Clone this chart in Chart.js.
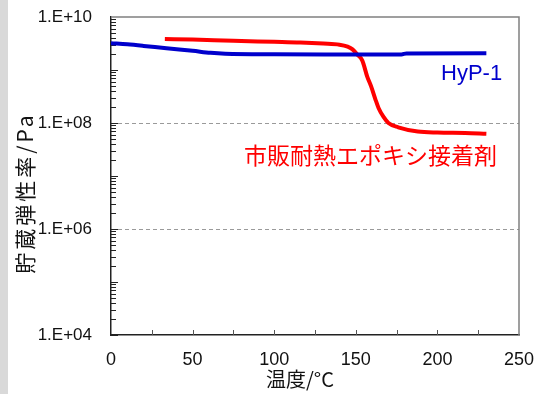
<!DOCTYPE html>
<html>
<head>
<meta charset="utf-8">
<script src="https://cdn.jsdelivr.net/npm/chart.js@4"></script>
<style>
  html, body { margin: 0; padding: 0; background: #fff; }
  #wrap { width: 538px; height: 394px; position: relative; }
</style>
</head>
<body>
<div id="wrap"><canvas id="chart"></canvas></div>
<script>
// storage modulus vs temperature
const tempHyp = [0, 10, 20, 34, 50, 61, 70, 100, 140, 178, 181, 230];
const modHyp = [3.2e9, 3.05e9, 2.85e9, 2.56e9, 2.3e9, 2.11e9, 2.03e9, 1.98e9, 1.97e9, 1.97e9, 2.05e9, 2.06e9];

const tempEpoxy = [33, 50, 75, 100, 116, 130, 140, 145, 148, 151, 154, 157, 159.5, 162, 164, 167, 170, 176, 188, 200, 217, 230];
const modEpoxy = [3.85e9, 3.75e9, 3.55e9, 3.4e9, 3.3e9, 3.15e9, 3.0e9, 2.75e9, 2.45e9, 1.95e9, 1.5e9, 7.5e8, 4.8e8, 2.8e8, 1.9e8, 1.3e8, 1.0e8, 8.3e7, 6.9e7, 6.6e7, 6.5e7, 6.3e7];

const xTicks = [0, 50, 100, 150, 200, 250];
const yTicks = [1e4, 1e6, 1e8, 1e10];
const gridValues = [1e6, 1e8];

const labelHyp = 'HyP-1';
const labelEpoxy = '市販耐熱エポキシ接着剤';
const xTitle = '温度/°C';
const yTitle = '貯蔵弾性率/Pa';

const toPoints = (xs, ys) => xs.map((x, i) => ({ x: x, y: ys[i] }));

// keep the plot area where the layout padding puts it
function noOverflow(s) {
  s.paddingTop = 0;
  s.paddingBottom = 0;
  s.paddingLeft = 0;
  s.paddingRight = 0;
}

const decorPlugin = {
  id: 'decor',
  beforeDraw(chart) {
    const ctx = chart.ctx;
    ctx.save();
    ctx.fillStyle = '#ffffff';
    ctx.fillRect(0, 0, chart.width, chart.height);
    ctx.fillStyle = '#d9d9d9';
    ctx.fillRect(0, 0, 8, chart.height);
    ctx.restore();
  },
  beforeDatasetsDraw(chart) {
    const ctx = chart.ctx;
    const a = chart.chartArea;
    const xs = chart.scales.x, ys = chart.scales.y;
    ctx.save();
    // dashed grid
    ctx.strokeStyle = '#9a9a9a';
    ctx.lineWidth = 1;
    ctx.setLineDash([4, 3]);
    gridValues.forEach(v => {
      const y = Math.round(ys.getPixelForValue(v)) + 0.5;
      ctx.beginPath();
      ctx.moveTo(a.left, y);
      ctx.lineTo(a.right, y);
      ctx.stroke();
    });
    ctx.setLineDash([]);
    // y minor ticks inside
    ctx.strokeStyle = '#222';
    for (let e = 4; e < 10; e++) {
      for (let k = 1; k <= 9; k++) {
        const y = Math.round(ys.getPixelForValue(k * Math.pow(10, e))) + 0.5;
        const len = k === 1 ? 7 : 5;
        ctx.beginPath();
        ctx.moveTo(a.left, y);
        ctx.lineTo(a.left + len, y);
        ctx.stroke();
      }
    }
    // x ticks inside
    ctx.strokeStyle = '#555';
    for (let t = 25; t < 250; t += 25) {
      const x = Math.round(xs.getPixelForValue(t)) + 0.5;
      ctx.beginPath();
      ctx.moveTo(x, a.bottom);
      ctx.lineTo(x, a.bottom - 5);
      ctx.stroke();
    }
    ctx.restore();
  },
  afterDraw(chart) {
    const ctx = chart.ctx;
    const a = chart.chartArea;
    ctx.save();
    // top and right border
    ctx.strokeStyle = '#808080';
    ctx.lineWidth = 1.5;
    ctx.beginPath();
    ctx.moveTo(a.left, a.top);
    ctx.lineTo(a.right, a.top);
    ctx.lineTo(a.right, a.bottom);
    ctx.stroke();
    // series labels
    ctx.textBaseline = 'alphabetic';
    ctx.fillStyle = '#0000cc';
    ctx.font = '22px "Liberation Sans", Arial, sans-serif';
    ctx.fillText(labelHyp, 441, 80);
    ctx.fillStyle = '#ff0000';
    ctx.font = '23px "Noto Sans CJK JP", sans-serif';
    ctx.fillText(labelEpoxy, 244, 164);
    // axis titles
    ctx.fillStyle = '#111';
    ctx.font = '20px "Noto Sans CJK JP", sans-serif';
    ctx.textAlign = 'center';
    ctx.fillText(xTitle, 300, 387);
    ctx.save();
    ctx.translate(33, 193);
    ctx.rotate(-Math.PI / 2);
    ctx.font = '21px "Noto Sans CJK JP", sans-serif';
    ctx.letterSpacing = '3px';
    ctx.fillText(yTitle, 0, 0);
    ctx.restore();
    ctx.restore();
  }
};

new Chart(document.getElementById('chart'), {
  type: 'line',
  data: {
    datasets: [
      {
        label: labelHyp,
        data: toPoints(tempHyp, modHyp),
        borderColor: '#0000cc',
        borderWidth: 4,
        pointRadius: 0,
        cubicInterpolationMode: 'monotone',
        fill: false
      },
      {
        label: labelEpoxy,
        data: toPoints(tempEpoxy, modEpoxy),
        borderColor: '#ff0000',
        borderWidth: 4,
        pointRadius: 0,
        cubicInterpolationMode: 'monotone',
        fill: false
      }
    ]
  },
  options: {
    responsive: true,
    maintainAspectRatio: false,
    animation: false,
    layout: { padding: { top: 17, right: 19, left: 0, bottom: 0 } },
    plugins: {
      legend: { display: false },
      tooltip: { enabled: false }
    },
    scales: {
      x: {
        type: 'linear',
        min: 0,
        max: 250,
        afterBuildTicks: s => { s.ticks = xTicks.map(v => ({ value: v })); },
        afterFit: s => { s.height = 59; noOverflow(s); },
        grid: { display: false, drawTicks: false },
        border: { display: true, color: '#222', width: 1.5 },
        ticks: {
          padding: 14,
          color: '#111',
          font: { family: '"Liberation Sans", Arial, sans-serif', size: 18 }
        }
      },
      y: {
        type: 'logarithmic',
        min: 1e4,
        max: 1e10,
        afterBuildTicks: s => { s.ticks = yTicks.map(v => ({ value: v })); },
        afterFit: s => { s.width = 111; noOverflow(s); },
        grid: { display: false, drawTicks: false },
        border: { display: true, color: '#222', width: 1.5 },
        ticks: {
          padding: 19,
          color: '#111',
          font: { family: '"Liberation Sans", Arial, sans-serif', size: 17 },
          callback: v => '1.E+' + String(Math.round(Math.log10(v))).padStart(2, '0')
        }
      }
    }
  },
  plugins: [decorPlugin]
});
</script>
</body>
</html>
